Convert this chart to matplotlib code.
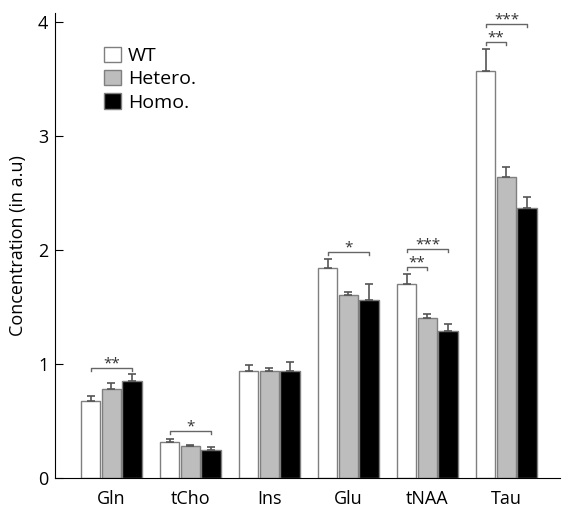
import matplotlib
matplotlib.use("Agg")
import matplotlib.pyplot as plt
import numpy as np

plt.rcParams["font.family"] = ["Open Sans", "DejaVu Sans"]

metabolites = ["Gln", "tCho", "Ins", "Glu", "tNAA", "Tau"]
groups = ["WT", "Hetero.", "Homo."]
wt = [0.67, 0.31, 0.94, 1.84, 1.70, 3.57]
hetero = [0.78, 0.275, 0.94, 1.60, 1.40, 2.64]
homo = [0.85, 0.245, 0.94, 1.56, 1.29, 2.37]
wt_err = [0.05, 0.03, 0.05, 0.08, 0.09, 0.19]
hetero_err = [0.05, 0.015, 0.02, 0.03, 0.04, 0.09]
homo_err = [0.06, 0.025, 0.08, 0.14, 0.06, 0.09]

# significance: (metabolite index, group a, group b, bracket height, label)
sig = [
    (0, 0, 2, 0.96, "**"),
    (1, 0, 2, 0.41, "*"),
    (3, 0, 2, 1.98, "*"),
    (4, 0, 1, 1.85, "**"),
    (4, 0, 2, 2.01, "***"),
    (5, 0, 1, 3.82, "**"),
    (5, 0, 2, 3.98, "***"),
]

COLORS = ["white", "#bdbdbd", "black"]
EDGE = "#7f7f7f"

fig = plt.figure(figsize=(5.63, 5.11), dpi=100)
ax = fig.add_axes([0.098, 0.065, 0.897, 0.91])

x = np.arange(len(metabolites))
w = 0.245
step = 0.262
series = [(wt, wt_err), (hetero, hetero_err), (homo, homo_err)]
for i, (vals, errs) in enumerate(series):
    xs = x + (i - 1) * step
    ax.bar(xs, vals, w, color=COLORS[i], edgecolor=EDGE, linewidth=1.0,
           label=groups[i], zorder=2)
    ax.errorbar(xs, vals, yerr=[np.zeros(len(vals)), errs], fmt="none",
                ecolor="#555555", elinewidth=1.2, capsize=3, capthick=1.2, zorder=3)

for m, a, b, h, lab in sig:
    xa = m + (a - 1) * step
    xb = m + (b - 1) * step
    ax.plot([xa, xa, xb, xb], [h - 0.025, h, h, h - 0.025], color="#666666",
            lw=1.0, zorder=3)
    ax.text((xa + xb) / 2, h - 0.03, lab, ha="center", va="bottom",
            fontsize=11, color="#333333")

ax.set_xlim(-0.71, 5.68)
ax.set_ylim(0, 4.08)
ax.set_yticks([0, 1, 2, 3, 4])
ax.set_xticks(x)
ax.set_xticklabels(metabolites, fontsize=13)
ax.tick_params(axis="y", direction="in", length=6, labelsize=13, pad=5)
ax.tick_params(axis="x", length=0, pad=9)
ax.spines["top"].set_visible(False)
ax.spines["right"].set_visible(False)
ax.set_ylabel("Concentration (in a.u)", fontsize=13, labelpad=8)

ax.legend(loc="upper left", bbox_to_anchor=(0.063, 0.965), frameon=False,
          fontsize=14, handlelength=0.85, handleheight=0.85, handletextpad=0.35,
          labelspacing=0.25)

fig.savefig("out.png", dpi=100)
